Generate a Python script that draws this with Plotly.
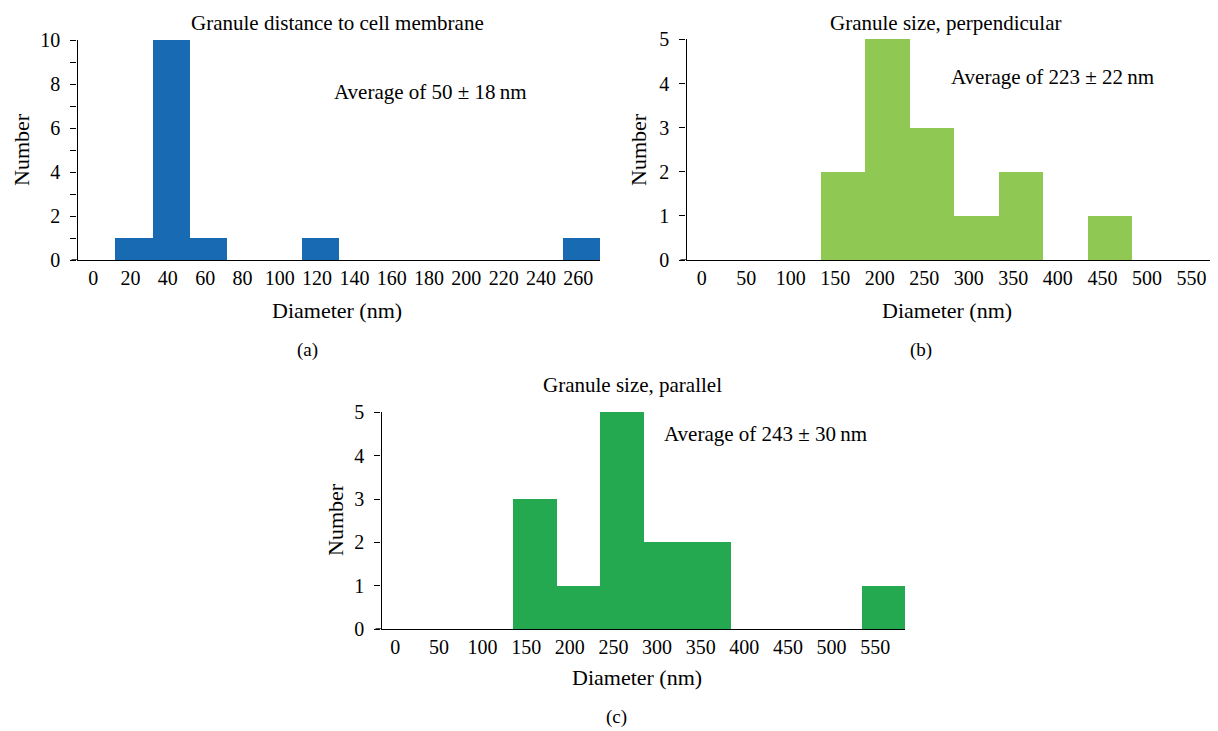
import plotly.graph_objects as go

# The page body adds an 8px offset, so the figure is sized to fill the rest of the 1218x731 window.
WIN_W, WIN_H = 1218, 731
OFF = 8
W, H = WIN_W - OFF, WIN_H - OFF

# ---------------- data ----------------
cats_a = ["0", "20", "40", "60", "80", "100", "120", "140", "160", "180", "200", "220", "240", "260"]
vals_a = [0, 1, 10, 1, 0, 0, 1, 0, 0, 0, 0, 0, 0, 1]

cats_b = ["0", "50", "100", "150", "200", "250", "300", "350", "400", "450", "500", "550"]
vals_b = [0, 0, 0, 2, 5, 3, 1, 2, 0, 1, 0, 0]

cats_c = ["0", "50", "100", "150", "200", "250", "300", "350", "400", "450", "500", "550"]
vals_c = [0, 0, 0, 3, 1, 5, 2, 2, 0, 0, 0, 1]

titles = ["Granule distance to cell membrane", "Granule size, perpendicular", "Granule size, parallel"]
notes = ["Average of 50 ± 18\u2009nm", "Average of 223 ± 22\u2009nm", "Average of 243 ± 30\u2009nm"]
panel_labels = ["(a)", "(b)", "(c)"]

# ---------------- style ----------------
FONT = "Liberation Serif"
FS = 20
col_a = "rgb(24,106,178)"
col_b = "rgb(144,200,84)"
col_c = "rgb(36,168,80)"


def px(x):
    return (x - OFF) / W


def py(y):
    return 1 - (y - OFF) / H


fig = go.Figure()
fig.add_trace(go.Bar(x=cats_a, y=vals_a, marker=dict(color=col_a, line=dict(width=0)),
                     xaxis="x", yaxis="y", showlegend=False))
fig.add_trace(go.Bar(x=cats_b, y=vals_b, marker=dict(color=col_b, line=dict(width=0)),
                     xaxis="x2", yaxis="y2", showlegend=False))
fig.add_trace(go.Bar(x=cats_c, y=vals_c, marker=dict(color=col_c, line=dict(width=0)),
                     xaxis="x3", yaxis="y3", showlegend=False))

xcommon = dict(type="category", showline=True, linecolor="black", linewidth=1.4,
               ticks="", showgrid=False, zeroline=False, fixedrange=True, automargin=False,
               tickfont=dict(family=FONT, size=FS, color="black"))
ycommon = dict(showline=True, linecolor="black", linewidth=1.4, ticks="outside",
               ticklen=6, tickcolor="black", tickwidth=1.2, showgrid=False, zeroline=False,
               automargin=False, fixedrange=True, ticklabelstandoff=6,
               tickfont=dict(family=FONT, size=FS, color="black"))

fig.update_layout(
    width=W, height=H, autosize=False,
    margin=dict(l=0, r=0, t=0, b=0, pad=0),
    paper_bgcolor="white", plot_bgcolor="white",
    bargap=0,
    font=dict(family=FONT, size=FS, color="black"),
    xaxis=dict(xcommon, domain=[px(77.5), px(600)], range=[-0.5, 13.5], anchor="y",
               ticklabelshift=-3),
    yaxis=dict(ycommon, domain=[py(260), py(40)], range=[0, 10.02], tickvals=[0, 2, 4, 6, 8, 10],
               minor=dict(tickvals=[1, 3, 5, 7, 9], ticks="outside", ticklen=6, tickcolor="black"),
               anchor="x"),
    xaxis2=dict(xcommon, domain=[px(686.5), 1.0], range=[-0.5, 11.44], anchor="y2",
                ticklabelshift=-7),
    yaxis2=dict(ycommon, domain=[py(260), py(39)], range=[0, 5.01], dtick=1, anchor="x2"),
    xaxis3=dict(xcommon, domain=[px(381.5), px(905)], range=[-0.5, 11.5], anchor="y3",
                ticklabelshift=-8),
    yaxis3=dict(ycommon, domain=[py(629), py(412)], range=[0, 5.01], dtick=1, anchor="x3"),
)

# extend x axis lines left of the y axis (as in reference)
for yref, x0 in [("y", 77.5), ("y2", 686.5), ("y3", 381.5)]:
    fig.add_shape(type="line", xref="paper", yref=yref, x0=px(x0 - 6), x1=px(x0), y0=0, y1=0,
                  line=dict(color="black", width=1.4))


def ann(text, x, y, size=FS, angle=0, yanchor="middle"):
    fig.add_annotation(text=text, x=px(x), y=py(y), xref="paper", yref="paper",
                       xanchor="center", yanchor=yanchor, showarrow=False, textangle=angle,
                       font=dict(family=FONT, size=size, color="black"))


# titles (top two anchored at the top edge of the visible page)
ann(titles[0], 337, 8.5, 21, yanchor="top")
ann(titles[1], 945, 8.5, 21, yanchor="top")
ann(titles[2], 632, 385, 21)
# average notes
ann(notes[0], 430, 92, 21)
ann(notes[1], 1052, 77, 21)
ann(notes[2], 765, 434, 21)
# axis titles
ann("Diameter (nm)", 337, 310, 22)
ann("Diameter (nm)", 947, 310, 22)
ann("Diameter (nm)", 637, 677, 22)
ann("Number", 22, 150, 22, angle=-90)
ann("Number", 639, 150, 22, angle=-90)
ann("Number", 335, 520, 22, angle=-90)
# panel labels
ann(panel_labels[0], 307, 350, 19)
ann(panel_labels[1], 921, 350, 19)
ann(panel_labels[2], 616, 717, 19)

fig.write_html("out.html")
